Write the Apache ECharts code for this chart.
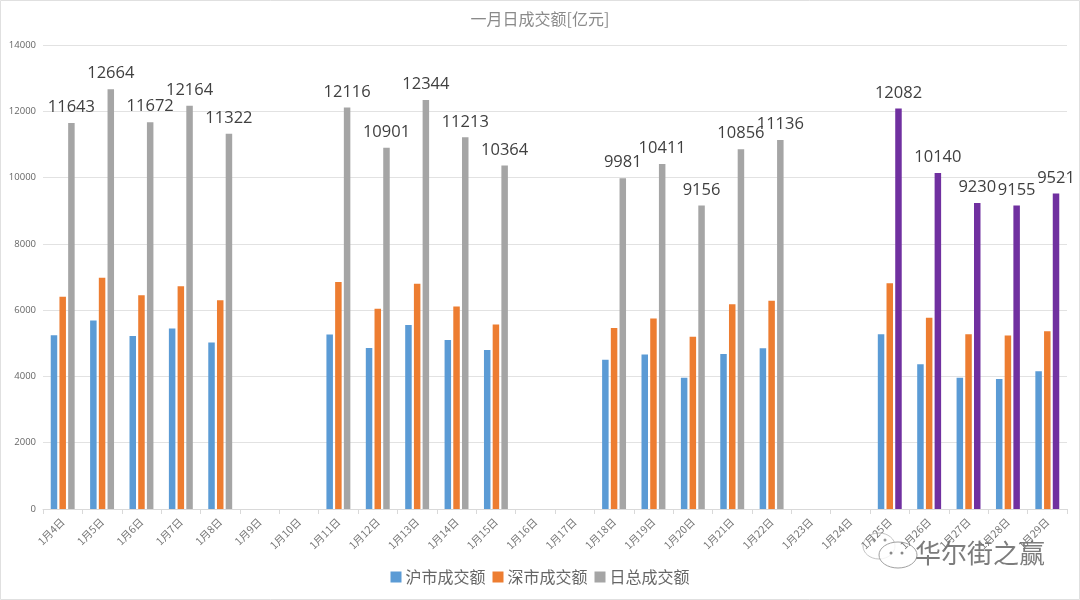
<!DOCTYPE html>
<html><head><meta charset="utf-8">
<style>html,body{margin:0;padding:0;background:#fff}#c{width:1080px;height:600px}</style>
<script src="https://cdn.jsdelivr.net/npm/echarts@6/dist/echarts.min.js"></script>
</head><body><div id="c"></div>
<script>
const categories = ['1月4日','1月5日','1月6日','1月7日','1月8日','1月9日','1月10日','1月11日','1月12日','1月13日','1月14日','1月15日','1月16日','1月17日','1月18日','1月19日','1月20日','1月21日','1月22日','1月23日','1月24日','1月25日','1月26日','1月27日','1月28日','1月29日'];
const shanghai = [5240,5690,5220,5444,5022,null,null,5266,4861,5550,5100,4800,null,null,4500,4660,3960,4680,4850,null,null,5270,4370,3960,3920,4160];
const shenzhen = [6403,6974,6452,6720,6300,null,null,6850,6040,6794,6113,5564,null,null,5460,5751,5196,6176,6286,null,null,6812,5770,5270,5235,5361];
const total = [11643,12664,11672,12164,11322,null,null,12116,10901,12344,11213,10364,null,null,9981,10411,9156,10856,11136,null,null,12082,10140,9230,9155,9521];
const seriesNames = ['沪市成交额','深市成交额','日总成交额'];
const purpleDays = ['1月25日','1月26日','1月27日','1月28日','1月29日'];
const fontCJK = '"Noto Sans CJK SC","Noto Sans",sans-serif';
const chart = echarts.init(document.getElementById('c'), null, {renderer:'canvas'});
const barOpts = {type:'bar', barWidth:6.5, barGap:'34%'};
chart.setOption({
  animation:false,
  backgroundColor:'#fff',
  title:{text:'一月日成交额[亿元]', left:'center', top:6, textStyle:{fontFamily:fontCJK, fontSize:16, fontWeight:'normal', color:'#8a8a8a'}},
  legend:{bottom:10, left:'center', itemWidth:11, itemHeight:11, itemGap:7, icon:'rect', data:seriesNames,
    textStyle:{fontFamily:fontCJK, fontSize:16, color:'#666', padding:[0,0,0,-1]}},
  grid:{left:43, right:13, top:45, bottom:91, containLabel:false},
  xAxis:{type:'category', data:categories,
    axisLine:{lineStyle:{color:'#d9d9d9', width:1}},
    axisTick:{show:true, length:5, alignWithLabel:false, lineStyle:{color:'#d9d9d9'}},
    axisLabel:{interval:0, rotate:45, fontFamily:fontCJK, fontSize:10.5, color:'#777', margin:11}},
  yAxis:{type:'value', min:0, max:14000, interval:2000,
    axisLine:{show:false}, axisTick:{show:false},
    splitLine:{lineStyle:{color:'#e2e2e2', width:1}},
    axisLabel:{formatter:v=>String(v), fontFamily:'"Open Sans",sans-serif', fontSize:9.5, color:'#666', margin:7}},
  series:[
    {...barOpts, name:seriesNames[0], data:shanghai, itemStyle:{color:'#5b9bd5'}},
    {...barOpts, name:seriesNames[1], data:shenzhen, itemStyle:{color:'#ed7d31'}},
    {...barOpts, name:seriesNames[2], itemStyle:{color:'#a5a5a5'},
      data:total.map((v,i)=>purpleDays.includes(categories[i]) ? {value:v,itemStyle:{color:'#7030a0'}} : v),
      label:{show:true, position:'top', distance:7, fontFamily:'"Open Sans",sans-serif', fontSize:16.5, color:'#404040'}}
  ],
  graphic:[
    {type:'rect', silent:true, z:-1, shape:{x:0.5,y:0.5,width:1079,height:599}, style:{fill:null, stroke:'#e0e0e0', lineWidth:1}},
    {type:'group', silent:true, z:100, children:[
      {type:'ellipse', shape:{cx:879,cy:546,rx:16,ry:13}, style:{fill:'rgba(255,255,255,0.6)', stroke:'#c4c4c4', lineWidth:1}},
      {type:'ellipse', shape:{cx:898,cy:555,rx:19,ry:13}, style:{fill:'rgba(255,255,255,0.8)', stroke:'#a0a0a0', lineWidth:1}},
      {type:'circle', shape:{cx:891,cy:553,r:1.5}, style:{fill:'#888'}},
      {type:'circle', shape:{cx:902,cy:553,r:1.5}, style:{fill:'#888'}},
      {type:'circle', shape:{cx:874,cy:540,r:1.5}, style:{fill:'#999'}},
      {type:'circle', shape:{cx:885,cy:540,r:1.5}, style:{fill:'#999'}}
    ]},
    {type:'text', silent:true, z:101, left:915, top:540, style:{text:'华尔街之赢', fontFamily:fontCJK, fontSize:26, fill:'rgba(110,110,110,0.9)'}}
  ]
});
</script></body></html>
